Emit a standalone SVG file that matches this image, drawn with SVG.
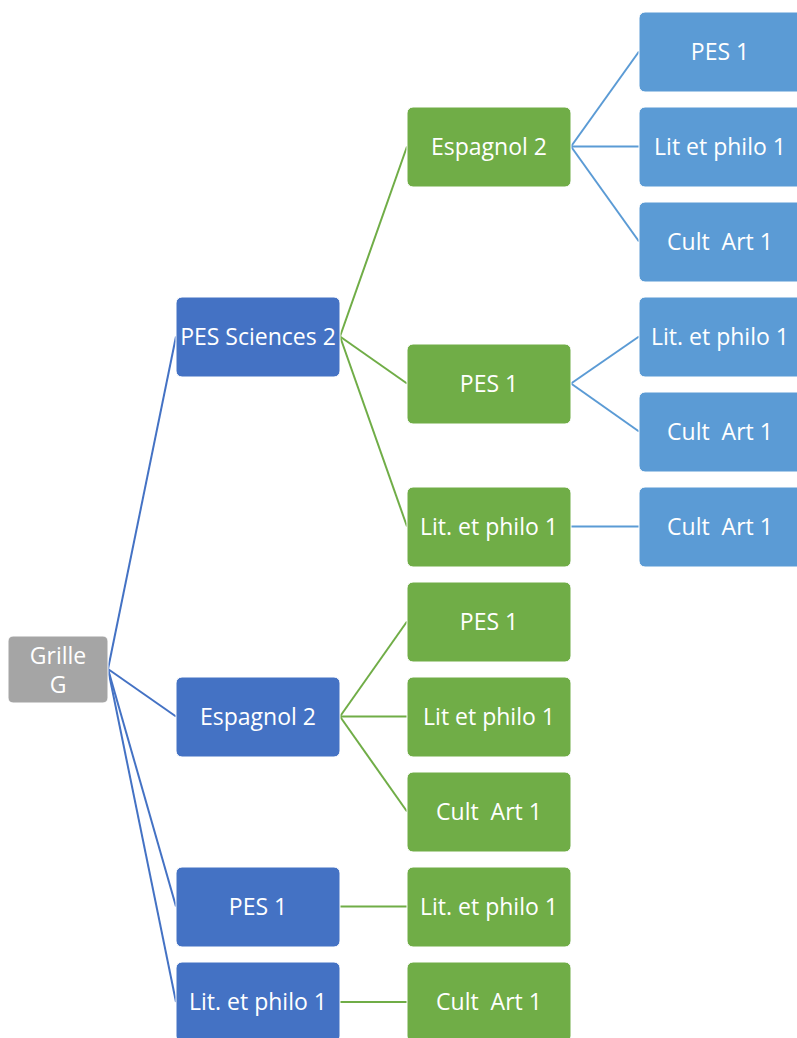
<svg xmlns="http://www.w3.org/2000/svg" width="797" height="1038" viewBox="0 0 797 1038">
<style>
.n rect{stroke:#fff;stroke-width:1}
.g rect{fill:#A5A5A5}
.b rect{fill:#4472C4}
.gr rect{fill:#70AD47}
.lb rect{fill:#5B9BD5}
text{font-family:"Open Sans","Liberation Sans",Arial,sans-serif;font-size:23px;fill:#fff;text-anchor:middle;dominant-baseline:central;white-space:pre}
.c line{stroke-width:2;fill:none}
.c1 line{stroke:#4472C4}
.c2 line{stroke:#70AD47}
.c3 line{stroke:#5B9BD5}
</style>
<rect width="797" height="1038" fill="#fff"/>
<g id="connectors" class="c">
<g class="c1">
<line x1="108" y1="669" x2="176" y2="336.5"/>
<line x1="108" y1="669" x2="176" y2="716.5"/>
<line x1="108" y1="669" x2="176" y2="906.5"/>
<line x1="108" y1="669" x2="176" y2="1002"/>
</g>
<g class="c2">
<line x1="340" y1="336.5" x2="407" y2="146.5"/>
<line x1="340" y1="336.5" x2="407" y2="383.5"/>
<line x1="340" y1="336.5" x2="407" y2="526.5"/>
<line x1="340" y1="716.5" x2="407" y2="621.5"/>
<line x1="340" y1="716.5" x2="407" y2="716.5"/>
<line x1="340" y1="716.5" x2="407" y2="811.5"/>
<line x1="340" y1="906.5" x2="407" y2="906.5"/>
<line x1="340" y1="1002" x2="407" y2="1002"/>
</g>
<g class="c3">
<line x1="571" y1="146.5" x2="639" y2="51.5"/>
<line x1="571" y1="146.5" x2="639" y2="146.5"/>
<line x1="571" y1="146.5" x2="639" y2="241.5"/>
<line x1="571" y1="383.5" x2="639" y2="336.5"/>
<line x1="571" y1="383.5" x2="639" y2="431.5"/>
<line x1="571" y1="526.5" x2="639" y2="526.5"/>
</g>
</g>
<g id="grille" class="n g"><rect x="8" y="636" width="100" height="67" rx="5"/><text x="58" y="655">Grille</text><text x="58" y="684">G</text></g>
<g id="l1-pes-sciences" class="n b"><rect x="176" y="297" width="164" height="80" rx="6"/><text x="258" y="336">PES Sciences 2</text></g>
<g id="l1-espagnol" class="n b"><rect x="176" y="677" width="164" height="80" rx="6"/><text x="258" y="716">Espagnol 2</text></g>
<g id="l1-pes" class="n b"><rect x="176" y="867" width="164" height="80" rx="6"/><text x="258" y="906">PES 1</text></g>
<g id="l1-lit" class="n b"><rect x="176" y="962" width="164" height="80" rx="6"/><text x="258" y="1001">Lit. et philo 1</text></g>
<g id="l2-espagnol" class="n gr"><rect x="407" y="107" width="164" height="80" rx="6"/><text x="489" y="146">Espagnol 2</text></g>
<g id="l2-pes-a" class="n gr"><rect x="407" y="344" width="164" height="80" rx="6"/><text x="489" y="383">PES 1</text></g>
<g id="l2-lit-a" class="n gr"><rect x="407" y="487" width="164" height="80" rx="6"/><text x="489" y="526">Lit. et philo 1</text></g>
<g id="l2-pes-b" class="n gr"><rect x="407" y="582" width="164" height="80" rx="6"/><text x="489" y="621">PES 1</text></g>
<g id="l2-lit-b" class="n gr"><rect x="407" y="677" width="164" height="80" rx="6"/><text x="489" y="716">Lit et philo 1</text></g>
<g id="l2-cult-a" class="n gr"><rect x="407" y="772" width="164" height="80" rx="6"/><text x="489" y="811">Cult  Art 1</text></g>
<g id="l2-lit-c" class="n gr"><rect x="407" y="867" width="164" height="80" rx="6"/><text x="489" y="906">Lit. et philo 1</text></g>
<g id="l2-cult-b" class="n gr"><rect x="407" y="962" width="164" height="80" rx="6"/><text x="489" y="1001">Cult  Art 1</text></g>
<g id="l3-pes" class="n lb"><rect x="639" y="12" width="164" height="80" rx="6"/><text x="720" y="51">PES 1</text></g>
<g id="l3-lit-a" class="n lb"><rect x="639" y="107" width="164" height="80" rx="6"/><text x="720" y="146">Lit et philo 1</text></g>
<g id="l3-cult-a" class="n lb"><rect x="639" y="202" width="164" height="80" rx="6"/><text x="720" y="241">Cult  Art 1</text></g>
<g id="l3-lit-b" class="n lb"><rect x="639" y="297" width="164" height="80" rx="6"/><text x="720" y="336">Lit. et philo 1</text></g>
<g id="l3-cult-b" class="n lb"><rect x="639" y="392" width="164" height="80" rx="6"/><text x="720" y="431">Cult  Art 1</text></g>
<g id="l3-cult-c" class="n lb"><rect x="639" y="487" width="164" height="80" rx="6"/><text x="720" y="526">Cult  Art 1</text></g>
</svg>
